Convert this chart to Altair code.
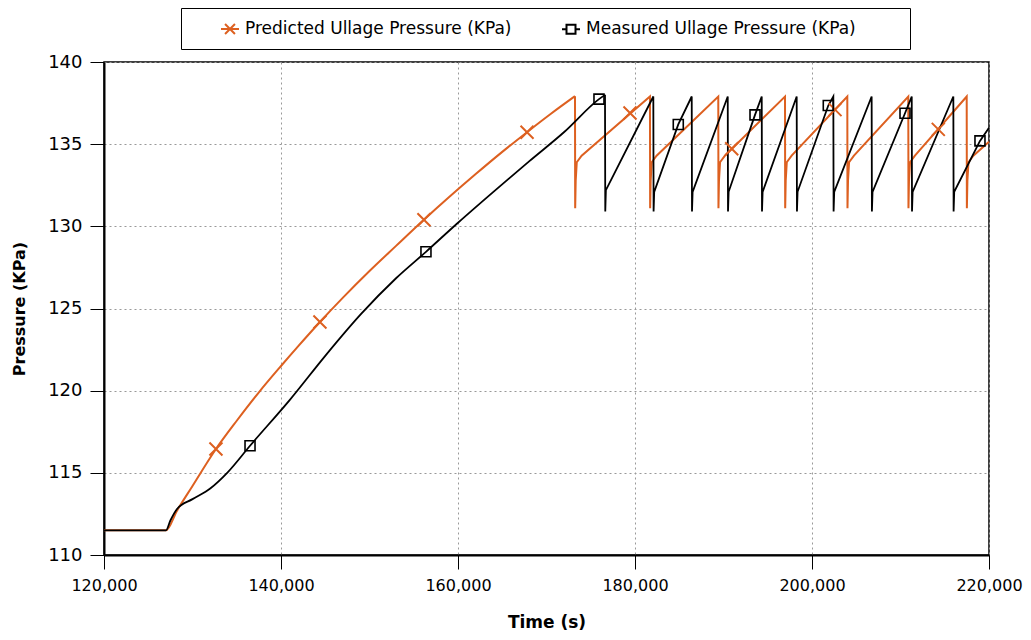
import altair as alt
import pandas as pd

# ---------------- data ----------------
pred_t = [120000, 127000, 128250, 130000, 132650, 135000, 137500, 140000, 142000,
          144400, 147000, 150000, 153000, 156150, 159000, 162000, 165000, 167800,
          170500, 173220,
          173240, 173300, 173420, 173970, 181690,
          181710, 181770, 181890, 182440, 189410,
          189430, 189490, 189610, 190160, 196950,
          196970, 197030, 197150, 197700, 203990,
          204010, 204070, 204190, 204740, 210880,
          210900, 210960, 211080, 211630, 217480,
          217500, 217560, 217680, 218230, 220000]
pred_p = [111.5, 111.5, 112.7, 114.2, 116.45, 118.17, 119.9, 121.5, 122.74,
          124.18, 125.66, 127.28, 128.81, 130.4, 131.78, 133.18, 134.53, 135.73,
          136.85, 137.92,
          131.1, 132.8, 133.9, 134.3, 137.9,
          131.1, 132.8, 133.9, 134.3, 137.9,
          131.1, 132.8, 133.9, 134.3, 137.9,
          131.1, 132.8, 133.9, 134.3, 137.9,
          131.1, 132.8, 133.9, 134.3, 137.9,
          131.1, 132.8, 133.9, 134.3, 137.9,
          131.1, 132.8, 133.9, 134.3, 135.15]

meas_t = [120000, 127000, 127500, 128250, 130000, 132000, 134000, 136500, 141000,
          145000, 149000, 153000, 156380, 160000, 164000, 168000, 172000, 175930,
          176610,
          176640, 176710, 182070,
          182100, 182170, 184890, 186410,
          186440, 186510, 190480,
          190510, 190580, 193560, 194320,
          194350, 194420, 198270,
          198300, 198370, 201840, 202410,
          202440, 202510, 206740,
          206770, 206840, 210510, 211270,
          211300, 211370, 215970,
          216000, 216070, 218980, 220000]
meas_p = [111.5, 111.5, 112.1, 112.8, 113.4, 114.05, 115.05, 116.65, 119.44,
          122.12, 124.64, 126.84, 128.45, 130.22, 132.1, 133.94, 135.74, 137.74,
          138.0,
          130.9, 132.2, 137.9,
          130.9, 132.1, 136.2, 137.9,
          130.9, 132.1, 137.9,
          130.9, 132.1, 136.78, 137.9,
          130.9, 132.1, 137.9,
          130.9, 132.1, 137.35, 137.9,
          130.9, 132.1, 137.9,
          130.9, 132.1, 136.88, 137.9,
          130.9, 132.1, 137.9,
          130.9, 132.1, 135.2, 136.0]

pred_mark_t = [132650, 144400, 156150, 167800, 179435, 190930, 202600, 214270]
pred_mark_p = [116.45, 124.18, 130.4, 135.73, 136.9, 134.72, 137.1, 135.9]

meas_mark_t = [136500, 156380, 175930, 184890, 193560, 201840, 210510, 218980]
meas_mark_p = [116.65, 128.45, 137.74, 136.2, 136.78, 137.35, 136.88, 135.2]

# first relief-valve opening (end of the smooth ramp) for each series
pred_first_peak = 173220
meas_first_peak = 176610

series_names = ["Predicted Ullage Pressure (KPa)", "Measured Ullage Pressure (KPa)"]
series_colors = ["#DD6020", "#000000"]
x_ticks = [120000, 140000, 160000, 180000, 200000, 220000]
y_ticks = [110, 115, 120, 125, 130, 135, 140]

# ---------------- styling ----------------
ORANGE = series_colors[0]
FONT = "DejaVu Sans"
legend_paths = [
    "M-1,0L1,0M-0.55,-0.55L0.55,0.55M-0.55,0.55L0.55,-0.55",
    "M-1,0L-0.5,0M0.5,0L1,0M-0.5,-0.5L0.5,-0.5L0.5,0.5L-0.5,0.5ZM36,0",
]

pred_df = pd.DataFrame({"t": pred_t, "p": pred_p})
meas_df = pd.DataFrame({"t": meas_t, "p": meas_p})
pred_mark_df = pd.DataFrame({"t": pred_mark_t, "p": pred_mark_p})
meas_mark_df = pd.DataFrame({"t": meas_mark_t, "p": meas_mark_p})
legend_df = pd.DataFrame({"series": series_names,
                          "t": [pred_t[0], meas_t[0]],
                          "p": [pred_p[0], meas_p[0]]})

x_enc = alt.X("t:Q",
              scale=alt.Scale(domain=[120000, 220000], nice=False, zero=False),
              axis=alt.Axis(values=x_ticks, labelExpr="format(datum.value, ',.0f')",
                            labelFlush=False, title="Time (s)", titlePadding=21),
              )
y_enc = alt.Y("p:Q",
              scale=alt.Scale(domain=[110, 140], nice=False, zero=False),
              axis=alt.Axis(values=y_ticks, title="Pressure (KPa)",
                            titlePadding=20),
              )

pred_ramp = alt.Chart(pred_df).transform_filter(
    alt.datum.t <= pred_first_peak).mark_line(
    color=ORANGE, strokeWidth=2, interpolate="monotone").encode(x=x_enc, y=y_enc)
pred_saw = alt.Chart(pred_df).transform_filter(
    alt.datum.t >= pred_first_peak).mark_line(
    color=ORANGE, strokeWidth=2).encode(x=x_enc, y=y_enc)
meas_ramp = alt.Chart(meas_df).transform_filter(
    alt.datum.t <= meas_first_peak).mark_line(
    color="black", strokeWidth=1.8, interpolate="monotone").encode(x=x_enc, y=y_enc)
meas_saw = alt.Chart(meas_df).transform_filter(
    alt.datum.t >= meas_first_peak).mark_line(
    color="black", strokeWidth=1.8).encode(x=x_enc, y=y_enc)

pred_pts = alt.Chart(pred_mark_df).mark_point(
    shape="M-1,-1L1,1M-1,1L1,-1", size=169, color=ORANGE, strokeWidth=2,
    filled=False, opacity=1).encode(x=x_enc, y=y_enc)
meas_pts = alt.Chart(meas_mark_df).mark_point(
    shape="square", size=100, color="black", strokeWidth=1.6,
    filled=False, opacity=1).encode(x=x_enc, y=y_enc)

leg = alt.Legend(title=None, orient="none", legendX=77, legendY=-54,
                 direction="horizontal", strokeColor="black", padding=11,
                 labelFont=FONT, labelFontSize=17, labelColor="black",
                 labelLimit=500,
                 symbolSize=324, symbolStrokeWidth=2, symbolOffset=28,
                 labelOffset=5, columnPadding=21,
                 symbolFillColor="transparent")

legend_layer = alt.Chart(legend_df).transform_filter("false").mark_point(
    filled=False, strokeWidth=2, opacity=1, size=324).encode(
    x=x_enc, y=y_enc,
    color=alt.Color("series:N", scale=alt.Scale(domain=series_names, range=series_colors), legend=leg),
    shape=alt.Shape("series:N", scale=alt.Scale(domain=series_names, range=legend_paths), legend=leg),
)

chart = alt.layer(pred_ramp, pred_saw, meas_ramp, meas_saw, pred_pts, meas_pts,
                  legend_layer).properties(
    width=885, height=493,
    autosize=alt.AutoSizeParams(type="none"),
    padding={"left": 96, "top": 54, "right": 34, "bottom": 77},
).configure_view(
    stroke="black", strokeWidth=1.5
).configure_axis(
    labelFont=FONT, labelFontSize=18, labelColor="black", labelPadding=8,
    titleFont=FONT, titleFontSize=16, titleFontWeight="bold", titleColor="black",
    tickSize=14, tickColor="black", tickWidth=1,
    domainColor="black", domainWidth=2,
    grid=True, gridColor="#999999", gridDash=[2, 3], gridWidth=1,
).configure_axisX(titleFontSize=17, labelFontSize=16)

chart.save("out.html", embed_options={"renderer": "svg", "actions": False})
